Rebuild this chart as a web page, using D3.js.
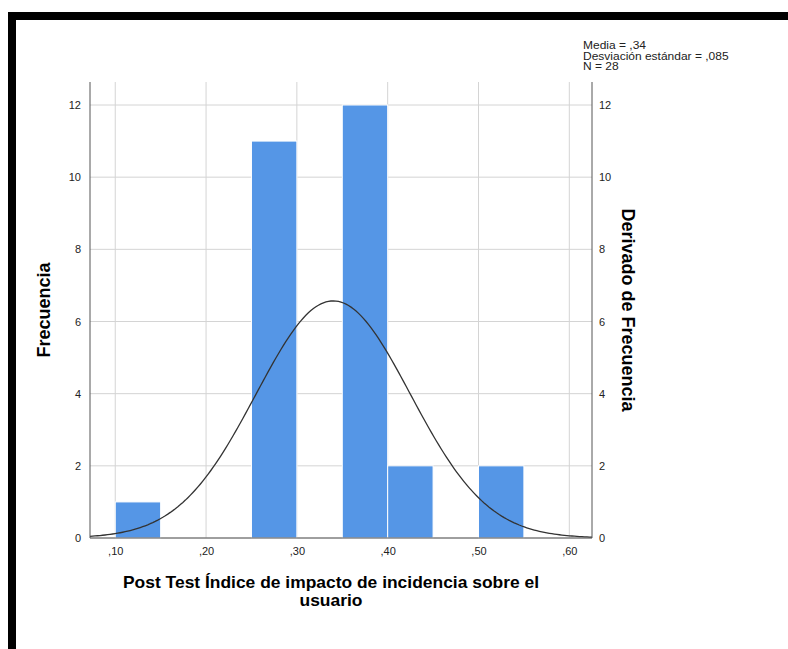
<!DOCTYPE html>
<meta charset="utf-8" />
<script src="https://d3js.org/d3.v7.min.js"></script>
<style>
  body { margin: 0; background: #fff; }
  svg text { font-family: Arial, "Liberation Sans", sans-serif; }
</style>
<div id="my_dataviz"></div>
<script>
  // histogram bins (lower edge, upper edge) and frequencies
  var binStart = [0.10, 0.25, 0.35, 0.40, 0.50];
  var binEnd = [0.15, 0.30, 0.40, 0.45, 0.55];
  var counts = [1, 11, 12, 2, 2];

  var xTicks = [0.1, 0.2, 0.3, 0.4, 0.5, 0.6];
  var xTickLabels = [",10", ",20", ",30", ",40", ",50", ",60"];
  var yTicks = [0, 2, 4, 6, 8, 10, 12];

  // summary stats shown in the corner (used for the normal curve)
  var statMean = 0.34, statSd = 0.085, statN = 28, binWidth = 0.05;
  var statLines = ["Media = ,34", "Desviación estándar = ,085", "N = 28"];
  var xTitleLines = ["Post Test Índice de impacto de incidencia sobre el", "usuario"];

  var W = 788, H = 649;
  var svg = d3.select("#my_dataviz").append("svg")
    .attr("width", W).attr("height", H);

  // frame (cropped black border)
  svg.append("rect").attr("x", 8).attr("y", 12).attr("width", W).attr("height", 8).attr("fill", "#000");
  svg.append("rect").attr("x", 8).attr("y", 12).attr("width", 8).attr("height", H).attr("fill", "#000");

  var plotL = 90, plotR = 592, plotT = 82, plotB = 538;
  var x = d3.scaleLinear().domain([0.0722, 0.625]).range([plotL, plotR]);
  var y = d3.scaleLinear().domain([0, 12]).range([plotB, 105]);

  // grid lines
  svg.append("g").selectAll("line").data(yTicks).enter().append("line")
    .attr("x1", plotL).attr("x2", plotR)
    .attr("y1", function (d) { return y(d); }).attr("y2", function (d) { return y(d); })
    .attr("stroke", "#d4d4d4").attr("stroke-width", 1);
  svg.append("g").selectAll("line").data(xTicks).enter().append("line")
    .attr("x1", function (d) { return x(d); }).attr("x2", function (d) { return x(d); })
    .attr("y1", plotT).attr("y2", plotB)
    .attr("stroke", "#d4d4d4").attr("stroke-width", 1);

  // bars
  svg.append("g").selectAll("rect").data(counts).enter().append("rect")
    .attr("x", function (d, i) { return x(binStart[i]); })
    .attr("width", function (d, i) { return x(binEnd[i]) - x(binStart[i]); })
    .attr("y", function (d) { return y(d); })
    .attr("height", function (d) { return y(0) - y(d); })
    .attr("fill", "#5596e6")
    .attr("stroke", "#ffffff").attr("stroke-width", 1);

  // normal curve from mean / sd / N
  var dens = function (v) {
    return statN * binWidth / (statSd * Math.sqrt(2 * Math.PI)) *
      Math.exp(-0.5 * Math.pow((v - statMean) / statSd, 2));
  };
  var xs = d3.range(0, 201).map(function (i) { return 0.0722 + (0.625 - 0.0722) * i / 200; });
  svg.append("path").datum(xs)
    .attr("fill", "none").attr("stroke", "#333").attr("stroke-width", 1.3)
    .attr("d", d3.line().x(function (d) { return x(d); }).y(function (d) { return y(dens(d)); }));

  // axes
  var axisLeft = svg.append("g").attr("transform", "translate(" + plotL + ",0)")
    .call(d3.axisLeft(y).tickValues(yTicks).tickSize(0).tickPadding(9).tickFormat(d3.format("d")));
  var axisRight = svg.append("g").attr("transform", "translate(" + plotR + ",0)")
    .call(d3.axisRight(y).tickValues(yTicks).tickSize(0).tickPadding(7).tickFormat(d3.format("d")));
  var axisBottom = svg.append("g").attr("transform", "translate(0," + plotB + ")")
    .call(d3.axisBottom(x).tickValues(xTicks).tickSize(0).tickPadding(9)
      .tickFormat(function (d, i) { return xTickLabels[i]; }));
  [axisLeft, axisRight, axisBottom].forEach(function (g) {
    g.selectAll("text").attr("font-size", "11px").attr("fill", "#222");
    g.select(".domain").remove();
  });
  svg.append("line").attr("x1", plotL).attr("x2", plotL).attr("y1", plotT).attr("y2", plotB).attr("stroke", "#555");
  svg.append("line").attr("x1", plotR).attr("x2", plotR).attr("y1", plotT).attr("y2", plotB).attr("stroke", "#555");
  svg.append("line").attr("x1", plotL).attr("x2", plotR).attr("y1", plotB).attr("y2", plotB).attr("stroke", "#555");

  // axis titles
  svg.append("text").attr("transform", "translate(50,310) rotate(-90)")
    .attr("text-anchor", "middle").attr("font-size", "18px").attr("font-weight", "bold")
    .text("Frecuencia");
  svg.append("text").attr("transform", "translate(622,310) rotate(90)")
    .attr("text-anchor", "middle").attr("font-size", "18px").attr("font-weight", "bold")
    .text("Derivado de Frecuencia");
  svg.append("g").selectAll("text").data(xTitleLines).enter().append("text")
    .attr("transform", function (d, i) { return "translate(331," + (588 + i * 18) + ") scale(1.09,1)"; })
    .attr("text-anchor", "middle").attr("font-size", "16px").attr("font-weight", "bold")
    .text(function (d) { return d; });

  // stats box
  svg.append("g").selectAll("text").data(statLines).enter().append("text")
    .attr("transform", function (d, i) { return "translate(583," + (49 + i * 10.5) + ") scale(1.2,1)"; })
    .attr("font-size", "10px").attr("fill", "#222")
    .text(function (d) { return d; });
</script>
